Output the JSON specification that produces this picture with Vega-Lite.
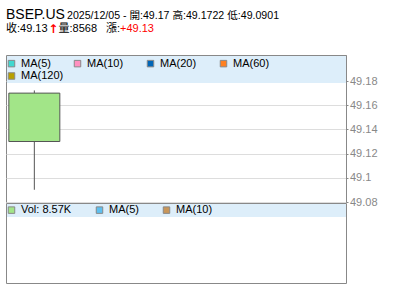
{
  "$schema": "https://vega.github.io/schema/vega-lite/v6.json",
  "padding": {"left": 5, "top": 7, "right": 0, "bottom": 0},
  "background": "white",
  "spacing": 1,
  "bounds": "flush",
  "config": {
    "font": "Liberation Sans, Noto Sans CJK TC",
    "view": {"stroke": "#888888", "strokeWidth": 1}
  },
  "resolve": {"scale": {"color": "independent"}},
  "vconcat": [
    {
      "width": 340,
      "height": 147,
      "data": {"values": [{"date": "2025-12-05T00:00:00", "open": 49.17, "high": 49.1722, "low": 49.0901, "close": 49.13, "volume": 8568}]},
      "layer": [
        {
          "mark": {"type": "rect", "color": "#ddeefa"},
          "encoding": {"x": {"value": 1}, "x2": {"value": 340}, "y": {"value": 1}, "y2": {"value": 28}}
        },
        {
          "mark": {"type": "rule", "color": "#555555", "strokeWidth": 1},
          "encoding": {
            "x": {"field": "date", "type": "temporal", "axis": null,
                  "scale": {"padding": 0, "domain": [{"year": 2025, "month": 12, "date": 4, "hours": 12}, {"year": 2025, "month": 12, "date": 10, "hours": 12}]}},
            "y": {"field": "low", "type": "quantitative",
                  "scale": {"domain": [49.08, 49.2015], "nice": false, "zero": false, "padding": 0},
                  "axis": {"orient": "right", "title": null, "values": [49.08, 49.1, 49.12, 49.14, 49.16, 49.18], "tickCount": 20, "format": "~g",
                           "labelOverlap": false, "labelBound": false,
                           "labelColor": "#888888", "labelFontSize": 11, "labelFont": "Liberation Sans", "labelPadding": 1.5,
                           "tickColor": "#888888", "tickSize": 2, "domainColor": "#888888",
                           "gridColor": "#dddddd", "gridWidth": 1}},
            "y2": {"field": "high"}
          }
        },
        {
          "mark": {"type": "bar", "size": 51, "fill": "#a2e588", "stroke": "#555555", "strokeWidth": 1},
          "encoding": {
            "x": {"field": "date", "type": "temporal"},
            "y": {"field": "open", "type": "quantitative"},
            "y2": {"field": "close"}
          }
        },
        {
          "data": {"values": [{"series": "MA(5)"}, {"series": "MA(10)"}, {"series": "MA(20)"}, {"series": "MA(60)"}]},
          "mark": {"type": "square", "opacity": 0},
          "encoding": {
            "fill": {"field": "series", "type": "nominal",
                      "scale": {"domain": ["MA(5)", "MA(10)", "MA(20)", "MA(60)"], "range": ["#40d8d0", "#ff90c0", "#0066b8", "#ff8020"]},
                      "legend": {"orient": "none", "legendX": 0, "legendY": 3, "direction": "horizontal", "gridAlign": "each",
                                 "title": null, "symbolType": "square", "symbolSize": 42, "labelFontSize": 11, "labelColor": "#000000",
                                 "labelFont": "Liberation Sans", "labelOffset": 4, "columnPadding": 21, "padding": 0,
                                 "encode": {"symbols": {"update": {"opacity": {"value": 1}, "stroke": {"value": "#888888"}, "strokeWidth": {"value": 1}}}}}}
          }
        },
        {
          "data": {"values": [{"name": "MA(120)"}]},
          "mark": {"type": "square", "opacity": 0},
          "encoding": {
            "color": {"field": "name", "type": "nominal",
                      "scale": {"domain": ["MA(120)"], "range": ["#b8a000"]},
                      "legend": {"orient": "none", "legendX": 0, "legendY": 15.5, "direction": "horizontal",
                                 "title": null, "symbolType": "square", "symbolSize": 42, "labelFontSize": 11, "labelColor": "#000000",
                                 "labelFont": "Liberation Sans", "labelOffset": 4, "padding": 0,
                                 "encode": {"symbols": {"update": {"opacity": {"value": 1}, "stroke": {"value": "#888888"}, "strokeWidth": {"value": 1}}}}}}
          }
        },
        {"mark": {"type": "text", "text": "BSEP.US", "x": 0, "y": -36, "align": "left", "baseline": "alphabetic", "fontSize": 14, "color": "#000000", "font": "Liberation Sans"}, "encoding": {}},
        {"mark": {"type": "text", "text": "2025/12/05 - 開:49.17 高:49.1722 低:49.0901", "x": 61, "y": -36, "align": "left", "baseline": "alphabetic", "fontSize": 10.6, "color": "#000000", "font": "Liberation Sans, Noto Sans CJK TC"}, "encoding": {}},
        {"mark": {"type": "text", "text": "收:49.13", "x": 0, "y": -23, "align": "left", "baseline": "alphabetic", "fontSize": 11, "color": "#000000", "font": "Liberation Sans, Noto Sans CJK TC"}, "encoding": {}},
        {"mark": {"type": "text", "text": "↑", "x": 42.3, "y": -22, "align": "left", "baseline": "alphabetic", "fontSize": 12, "fontWeight": "bold", "color": "#ff0000", "font": "DejaVu Sans"}, "encoding": {}},
        {"mark": {"type": "text", "text": "量:8568", "x": 52.5, "y": -23, "align": "left", "baseline": "alphabetic", "fontSize": 11, "color": "#000000", "font": "Liberation Sans, Noto Sans CJK TC"}, "encoding": {}},
        {"mark": {"type": "text", "text": "漲:", "x": 100, "y": -23, "align": "left", "baseline": "alphabetic", "fontSize": 11, "color": "#000000", "font": "Liberation Sans, Noto Sans CJK TC"}, "encoding": {}},
        {"mark": {"type": "text", "text": "+49.13", "x": 114, "y": -23, "align": "left", "baseline": "alphabetic", "fontSize": 11, "color": "#ff0000", "font": "Liberation Sans"}, "encoding": {}}
      ]
    },
    {
      "width": 340,
      "height": 80,
      "layer": [
        {
          "data": {"values": [{}]},
          "mark": {"type": "rect", "color": "#ddeefa"},
          "encoding": {"x": {"value": 1}, "x2": {"value": 340}, "y": {"value": 1}, "y2": {"value": 14}}
        },
        {
          "data": {"values": [{"series": "Vol: 8.57K"}, {"series": "MA(5)"}, {"series": "MA(10)"}]},
          "mark": {"type": "square", "opacity": 0},
          "encoding": {
            "color": {"field": "series", "type": "nominal",
                      "scale": {"domain": ["Vol: 8.57K", "MA(5)", "MA(10)"], "range": ["#a2e588", "#5ec0f0", "#c8965a"]},
                      "legend": {"orient": "none", "legendX": 0, "legendY": 1.5, "direction": "horizontal", "gridAlign": "each",
                                 "title": null, "symbolType": "square", "symbolSize": 42, "labelFontSize": 11, "labelColor": "#000000",
                                 "labelFont": "Liberation Sans", "labelOffset": 4, "columnPadding": 22, "padding": 0,
                                 "encode": {"symbols": {"update": {"opacity": {"value": 1}, "stroke": {"value": "#888888"}, "strokeWidth": {"value": 1}}}}}}
          }
        }
      ]
    }
  ]
}
